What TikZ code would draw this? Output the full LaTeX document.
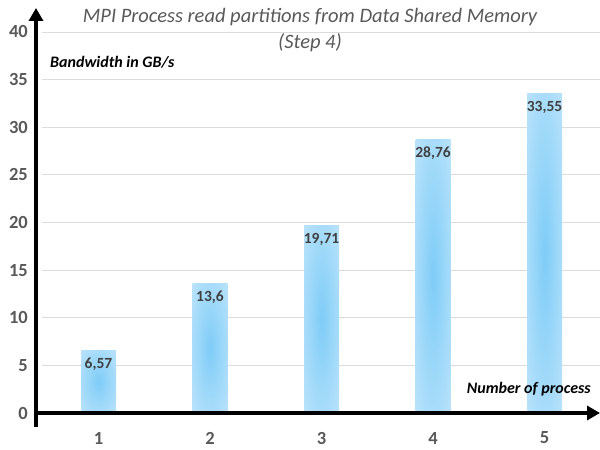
\documentclass[tikz,border=0pt]{standalone}
\usepackage{fontspec}
\setmainfont{Carlito}
\usetikzlibrary{arrows.meta}
\definecolor{ink}{HTML}{000000}
\definecolor{slate}{HTML}{595959}
\definecolor{figure}{HTML}{404040}
\definecolor{gridgray}{HTML}{DCDCDC}
\definecolor{glowmid}{HTML}{7ECCF8}
\definecolor{glowin}{HTML}{9AD7F9}
\definecolor{glowout}{HTML}{D2EBFC}
\definecolor{glowrim}{HTML}{E2F2FD}
\pgfdeclareradialshading{barglow}{\pgfpointorigin}{%
  color(0bp)=(glowmid); color(16bp)=(glowin); color(50bp)=(glowout); color(71bp)=(glowrim)}

\begin{document}
\begin{tikzpicture}[
  x=1pt, y=1pt,
  axis/.style={draw=ink,line width=3.6pt,-{Triangle[length=13pt,width=14pt]}},
  gridline/.style={draw=gridgray,line width=0.9pt},
  tick/.style={font=\fontsize{18.5}{18}\selectfont\bfseries,text=slate,inner sep=0pt},
  val/.style={font=\fontsize{15.5}{15}\selectfont\bfseries,text=figure,inner sep=0pt},
  axlbl/.style={font=\fontsize{16}{16}\selectfont\bfseries\itshape,text=ink,inner sep=0pt},
  ttl/.style={font=\fontsize{20.5}{26}\selectfont\itshape,text=slate,align=center,inner sep=0pt},
  bar/.style={shading=barglow},
]
\useasboundingbox (-36,-37) rectangle (564,413);

% --- grid and y ticks -------------------------------------------------------
\foreach \k in {0,5,...,40} {
  \pgfmathsetmacro{\yy}{\k*9.525}
  \ifnum\k>0 \draw[gridline] (6,\yy) -- (564,\yy); \fi
  \node[tick,anchor=east] (ytick\k) at (-8,\yy) {\k};
}

% --- bars with their values -------------------------------------------------
\foreach \i/\v/\t in {1/6.57/{6,57},2/13.6/{13,6},3/19.71/{19,71},4/28.76/{28,76},5/33.55/{33,55}} {
  \pgfmathsetmacro{\xx}{62.5+111.5*(\i-1)}
  \pgfmathsetmacro{\hh}{\v*9.525}
  \shade[bar] (\xx-17.5,0) rectangle (\xx+17.5,\hh);
  \node[val] (val\i) at (\xx,\hh-14) {\t};
  \node[tick] (xtick\i) at (\xx,-25) {\i};
}

% --- axes -------------------------------------------------------------------
\coordinate (orig) at (0,-14);
\coordinate (ytop) at (0,405);
\coordinate (xleft) at (-2,0);
\coordinate (xright) at (564,0);
\draw[axis] (orig) -- (ytop);
\draw[axis] (xleft) -- (xright);

% --- labels -----------------------------------------------------------------
\node[ttl] (title) at (274,383) {MPI Process read partitions from Data Shared Memory\\(Step 4)};
\node[axlbl,anchor=west] (ylabel) at (14,351) {Bandwidth in GB/s};
\node[axlbl,anchor=east] (xlabel) at (555,24) {Number of process};
\end{tikzpicture}
\end{document}
